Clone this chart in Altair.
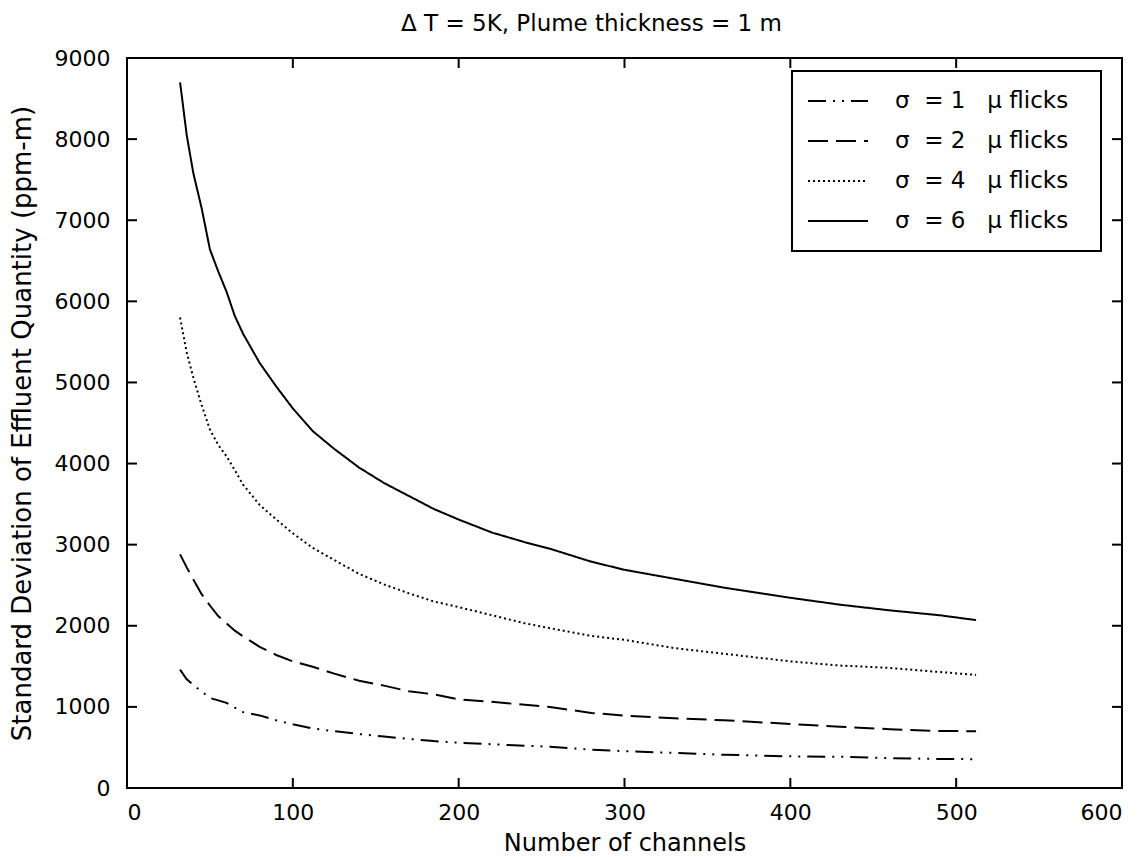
import altair as alt
import pandas as pd

# ---- data ----
channels = [32, 36, 40, 45, 50, 55, 60, 65, 70, 80, 90, 100, 112, 125, 140, 155,
            170, 185, 200, 220, 240, 255, 280, 300, 330, 360, 400, 430, 460, 490, 512]
sigma1 = [1460, 1340, 1270, 1190, 1110, 1080, 1050, 990, 935, 895, 835, 785, 735, 700, 665, 635,
          605, 578, 559, 540, 520, 510, 472, 455, 432, 410, 390, 385, 368, 358, 355]
sigma2 = [2880, 2720, 2570, 2390, 2250, 2120, 2030, 1940, 1870, 1740, 1640, 1560, 1495, 1410, 1322, 1262,
          1192, 1155, 1094, 1062, 1025, 1000, 925, 893, 860, 835, 790, 755, 725, 703, 700]
sigma4 = [5800, 5370, 5060, 4720, 4420, 4230, 4090, 3920, 3740, 3490, 3310, 3140, 2960, 2810, 2640, 2510,
          2400, 2300, 2230, 2130, 2030, 1970, 1875, 1826, 1725, 1655, 1561, 1510, 1480, 1430, 1394]
sigma6 = [8700, 8050, 7580, 7150, 6640, 6370, 6120, 5820, 5600, 5240, 4950, 4680, 4400, 4180, 3950, 3760,
          3600, 3440, 3310, 3150, 3030, 2950, 2790, 2690, 2580, 2470, 2345, 2260, 2190, 2130, 2070]

NB = "\u00a0"
ZW = "\u200b"
series_labels = [
    f"σ{NB}{NB}={NB}1{NB}{NB}{NB}μ{NB}flicks{NB*3}{ZW}",
    f"σ{NB}{NB}={NB}2{NB}{NB}{NB}μ{NB}flicks{NB*3}{ZW}",
    f"σ{NB}{NB}={NB}4{NB}{NB}{NB}μ{NB}flicks{NB*3}{ZW}",
    f"σ{NB}{NB}={NB}6{NB}{NB}{NB}μ{NB}flicks{NB*3}{ZW}",
]
dashes = [[18, 7, 2, 7, 2, 7], [20, 8], [2, 3], [1, 0]]

x_ticks = [0, 100, 200, 300, 400, 500, 600]
y_ticks = [0, 1000, 2000, 3000, 4000, 5000, 6000, 7000, 8000, 9000]

title_text = "Δ T = 5K, Plume thickness = 1 m"
x_title = "Number of channels"
y_title = "Standard Deviation of Effluent Quantity (ppm-m)"

# ---- build table ----
rows = []
for lab, vals in zip(series_labels, [sigma1, sigma2, sigma4, sigma6]):
    for c, v in zip(channels, vals):
        rows.append({"channels": c, "std": v, "series": lab})
df = pd.DataFrame(rows)

W, H = 995, 730
FONT = "DejaVu Sans"

xscale = alt.Scale(domain=[0, 600], nice=False, zero=False)
yscale = alt.Scale(domain=[0, 9000], nice=False)

x_axis = alt.Axis(values=x_ticks, title=x_title, domain=False, ticks=False, grid=False, format="d",
                  labelFont=FONT, labelFontSize=22, labelColor="black", labelPadding=14,
                  titleFont=FONT, titleFontSize=24, titleFontWeight="normal",
                  titleColor="black", titlePadding=8, titleLimit=900)
y_axis = alt.Axis(values=y_ticks, title=y_title, domain=False, ticks=False, grid=False, format="d",
                  labelFont=FONT, labelFontSize=22, labelColor="black", labelPadding=17,
                  titleFont=FONT, titleFontSize=26, titleFontWeight="normal",
                  titleColor="black", titlePadding=19, titleLimit=900)

lines = alt.Chart(df).mark_line(color="black", strokeWidth=2).encode(
    x=alt.X("channels:Q", scale=xscale, axis=x_axis),
    y=alt.Y("std:Q", scale=yscale, axis=y_axis),
    strokeDash=alt.StrokeDash("series:N",
                              scale=alt.Scale(domain=series_labels, range=dashes),
                              legend=alt.Legend(title=None, orient="none", legendX=665, legendY=13,
                                                fillColor="white", strokeColor="black", padding=10,
                                                symbolType="stroke", symbolSize=3600,
                                                symbolStrokeColor="black", symbolStrokeWidth=2,
                                                symbolOffset=5, labelOffset=26, clipHeight=40,
                                                rowPadding=0, labelFont=FONT, labelFontSize=23,
                                                labelColor="black", labelLimit=400)),
    order="channels:Q",
)

xt = pd.DataFrame({"channels": x_ticks})
yt = pd.DataFrame({"std": y_ticks})

tick_x_bottom = alt.Chart(xt).mark_rule(color="black", strokeWidth=2).encode(
    x=alt.X("channels:Q", scale=xscale, axis=x_axis), y=alt.value(H), y2=alt.value(H - 10))
tick_x_top = alt.Chart(xt).mark_rule(color="black", strokeWidth=2).encode(
    x=alt.X("channels:Q", scale=xscale, axis=x_axis), y=alt.value(0), y2=alt.value(10))
tick_y_left = alt.Chart(yt).mark_rule(color="black", strokeWidth=2).encode(
    y=alt.Y("std:Q", scale=yscale, axis=y_axis), x=alt.value(0), x2=alt.value(10))
tick_y_right = alt.Chart(yt).mark_rule(color="black", strokeWidth=2).encode(
    y=alt.Y("std:Q", scale=yscale, axis=y_axis), x=alt.value(W), x2=alt.value(W - 10))

chart = alt.layer(lines, tick_x_bottom, tick_x_top, tick_y_left, tick_y_right).properties(
    width=W, height=H,
    title=alt.TitleParams(title_text, font=FONT, fontSize=23, fontWeight="normal", color="black",
                          offset=11, anchor="middle", dx=-33),
    padding={"left": 119, "top": 50, "right": 10, "bottom": 68},
    autosize=alt.AutoSizeParams(type="none"),
    background="white",
).configure_view(stroke="black", strokeWidth=2).configure_legend(strokeWidth=2)

chart.save("out.html", embed_options={"renderer": "svg", "actions": False})
